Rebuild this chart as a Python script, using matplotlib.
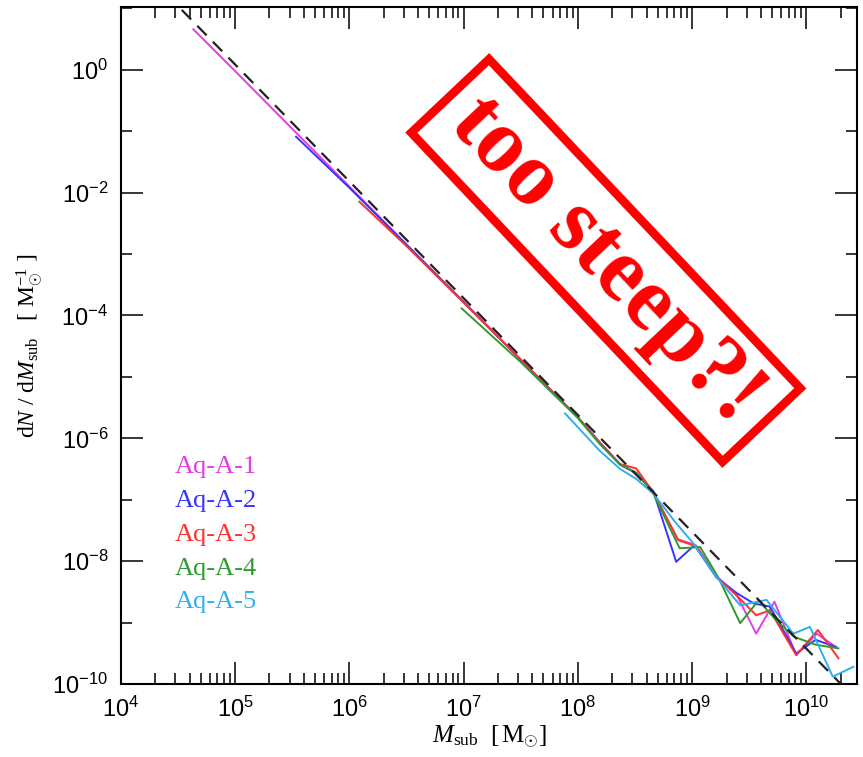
#!/usr/bin/env python3
"""Subhalo mass function of the Aquarius A runs, with a 'too steep?!' stamp."""

import matplotlib

matplotlib.use("Agg")
import matplotlib.pyplot as plt
import numpy as np
from matplotlib.patches import Rectangle
from matplotlib.ticker import FixedLocator, FuncFormatter, LogLocator, NullFormatter

plt.rcParams["mathtext.fontset"] = "custom"
plt.rcParams["mathtext.rm"] = "Liberation Serif"
plt.rcParams["mathtext.it"] = "Liberation Serif:italic"
plt.rcParams["mathtext.bf"] = "Liberation Serif:bold"
plt.rcParams["mathtext.sf"] = "Liberation Sans"

# log10(M_sub / Msun) and log10(dN/dM_sub)
run_labels = ["Aq-A-1", "Aq-A-2", "Aq-A-3", "Aq-A-4", "Aq-A-5"]
run_colors = ["#e63ce6", "#3535ff", "#ff3030", "#2f9a2f", "#30aef0"]

logm_aq1 = [4.635, 5.0, 5.5, 6.0, 6.5, 7.0, 7.5, 8.0, 8.19, 8.37, 8.51, 8.66,
            8.87, 9.03, 9.21, 9.39, 9.56, 9.72, 9.91, 10.09, 10.26]
logn_aq1 = [0.66, -0.02, -0.96, -1.90, -2.84, -3.78, -4.72, -5.66, -6.06, -6.42,
            -6.56, -6.88, -7.64, -7.74, -8.24, -8.55, -9.18, -8.66, -9.53, -9.18, -9.40]

logm_aq2 = [5.534, 6.0, 6.5, 7.0, 7.5, 8.0, 8.19, 8.37, 8.51, 8.66, 8.86, 9.02,
            9.21, 9.39, 9.54, 9.68, 9.91, 10.08, 10.26]
logn_aq2 = [-1.09, -1.92, -2.85, -3.78, -4.72, -5.66, -6.07, -6.43, -6.57, -6.86,
            -8.01, -7.74, -8.26, -8.52, -8.69, -8.74, -9.50, -9.28, -9.40]

logm_aq3 = [6.088, 6.5, 7.0, 7.5, 8.0, 8.19, 8.37, 8.51, 8.66, 8.88, 9.04, 9.21,
            9.39, 9.56, 9.68, 9.91, 10.10, 10.28]
logn_aq3 = [-2.148, -2.87, -3.79, -4.72, -5.66, -6.07, -6.42, -6.49, -6.88, -7.66,
            -7.76, -8.25, -8.56, -8.88, -8.80, -9.53, -9.12, -9.58]

logm_aq4 = [6.983, 7.5, 8.0, 8.19, 8.37, 8.51, 8.66, 8.89, 9.07, 9.23, 9.42,
            9.58, 9.73, 9.89, 10.08, 10.28]
logn_aq4 = [-3.885, -4.76, -5.67, -6.09, -6.43, -6.56, -6.90, -7.79, -7.77, -8.27,
            -9.01, -8.64, -8.95, -9.23, -9.36, -9.42]

logm_aq5 = [7.887, 8.0, 8.19, 8.37, 8.51, 8.66, 8.85, 9.01, 9.21, 9.42, 9.65,
            9.885, 10.03, 10.23, 10.41]
logn_aq5 = [-5.594, -5.82, -6.20, -6.50, -6.66, -6.90, -7.36, -7.71, -8.25, -8.72,
            -8.63, -9.18, -9.07, -9.88, -9.72]

# dashed power-law reference, end points
dashed_mass = [3.42e4, 2.0e10]
dashed_dndm = [9.42, 1.0e-10]

runs_logm = [logm_aq1, logm_aq2, logm_aq3, logm_aq4, logm_aq5]
runs_logn = [logn_aq1, logn_aq2, logn_aq3, logn_aq4, logn_aq5]


def sans_power(val, pos):
    return r"$\mathsf{10^{%d}}$" % int(round(np.log10(val)))


def main() -> None:
    fig = plt.figure(figsize=(8.63, 7.57), dpi=100)
    ax = fig.add_axes([0.1399, 0.0964, 0.8532, 0.8943])

    ax.plot(dashed_mass, dashed_dndm, color="#222222", lw=1.6, ls=(0, (6, 4)), zorder=3)
    for logm, logn, color in zip(runs_logm, runs_logn, run_colors):
        ax.plot(10.0 ** np.array(logm), 10.0 ** np.array(logn), color=color, lw=1.4)

    ax.set_xscale("log")
    ax.set_yscale("log")
    ax.set_xlim(1e4, 2.77e10)
    ax.set_ylim(1e-10, 10.5)

    ax.xaxis.set_major_locator(FixedLocator(10.0 ** np.arange(4, 11)))
    ax.xaxis.set_minor_locator(LogLocator(base=10, subs=np.arange(2, 10), numticks=20))
    ax.yaxis.set_major_locator(FixedLocator(10.0 ** np.arange(-10, 2, 2)))
    ax.yaxis.set_minor_locator(FixedLocator(10.0 ** np.arange(-9, 2, 2)))
    ax.xaxis.set_major_formatter(FuncFormatter(sans_power))
    ax.yaxis.set_major_formatter(FuncFormatter(sans_power))
    ax.xaxis.set_minor_formatter(NullFormatter())
    ax.yaxis.set_minor_formatter(NullFormatter())

    ax.tick_params(which="both", direction="in", top=True, right=True, width=1.1,
                   labelsize=17, pad=9)
    ax.tick_params(which="major", length=16)
    ax.tick_params(which="minor", length=8)
    for spine in ax.spines.values():
        spine.set_linewidth(1.5)

    ax.set_xlabel(r"$M_{\rm sub}\ \ [\,{\rm M}_{\odot}]$", fontsize=18, labelpad=1)
    ax.set_ylabel(r"${\rm d}N\ /\ {\rm d}M_{\rm sub}\ \ \ [\ {\rm M}_{\odot}^{-1}\ ]$",
                  fontsize=17, labelpad=5)

    for i, (label, color) in enumerate(zip(run_labels, run_colors)):
        ax.text(0.0737, 0.311 - 0.0498 * i, label, transform=ax.transAxes, color=color,
                fontsize=19, family="Liberation Serif", va="baseline", ha="left")

    # red stamp
    stamp = Rectangle((6.058 - 4.53 / 2, 4.965 - 1.07 / 2), 4.53, 1.07, angle=-46.6,
                      rotation_point="center", transform=fig.dpi_scale_trans,
                      fill=False, ec="#ff0000", lw=6.2)
    fig.add_artist(stamp)
    fig.text(6.058 / 8.63, 4.965 / 7.57, "too steep?!", rotation=-46.6,
             rotation_mode="anchor", ha="center", va="center", fontsize=65,
             fontweight="bold", family="Liberation Serif", color="#ff0000")

    fig.savefig("out.png", dpi=100)


if __name__ == "__main__":
    main()
